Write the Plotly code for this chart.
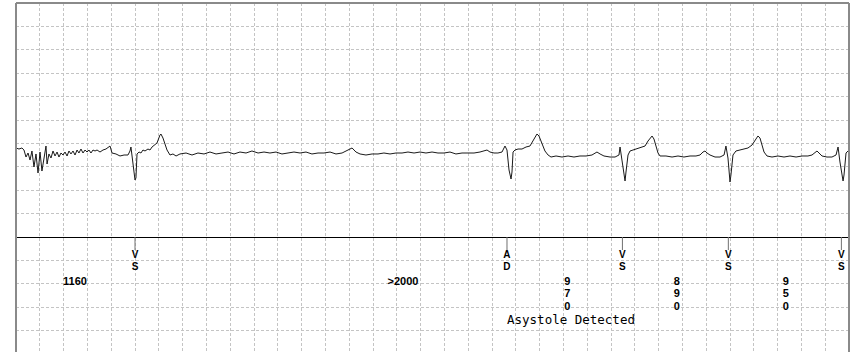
import plotly.graph_objects as go

# ECG trace: time (ms) and amplitude (mV, 0 = annotation baseline)
ecg_t_ms = [0, 25, 50, 67, 84, 101, 118, 134, 151, 168, 185, 202, 218, 235, 252, 261, 277, 294, 311, 328,
            345, 361, 378, 395, 412, 429, 445, 462, 479, 496, 513, 529, 546, 563, 580, 597, 613, 630, 647, 664,
            681, 706, 731, 756, 773, 790, 807, 840, 874, 908, 941, 958, 966, 983, 1000, 1008, 1017, 1034, 1050, 1067,
            1084, 1109, 1126, 1143, 1168, 1185, 1210, 1218, 1235, 1252, 1269, 1294, 1319, 1345, 1378, 1429, 1479, 1529, 1580, 1630,
            1681, 1731, 1782, 1832, 1882, 1933, 1983, 2034, 2084, 2134, 2185, 2235, 2286, 2336, 2387, 2437, 2487, 2538, 2588, 2639,
            2689, 2740, 2790, 2824, 2857, 2891, 2941, 2992, 3042, 3092, 3143, 3193, 3244, 3294, 3345, 3395, 3445, 3496, 3546, 3597,
            3647, 3697, 3748, 3798, 3849, 3899, 3933, 3958, 3983, 4017, 4050, 4084, 4109, 4126, 4143, 4160, 4168, 4177, 4193, 4219,
            4252, 4286, 4319, 4345, 4370, 4378, 4395, 4420, 4445, 4471, 4496, 4538, 4588, 4639, 4689, 4739, 4790, 4840, 4866, 4882,
            4908, 4941, 4992, 5034, 5067, 5076, 5092, 5109, 5118, 5126, 5143, 5160, 5185, 5218, 5252, 5286, 5311, 5328, 5345, 5361,
            5378, 5395, 5412, 5462, 5513, 5563, 5613, 5664, 5714, 5748, 5773, 5790, 5807, 5832, 5874, 5916, 5950, 5966, 5983, 5992,
            6000, 6008, 6025, 6050, 6084, 6118, 6151, 6185, 6210, 6235, 6252, 6269, 6286, 6311, 6353, 6403, 6454, 6504, 6555, 6605,
            6655, 6689, 6714, 6731, 6748, 6773, 6815, 6857, 6891, 6908, 6924, 6941, 6950, 6958, 6975, 6992, 7000]
ecg_mv = [1.902, 1.880, 1.902, 1.859, 1.709, 1.795, 1.645, 1.838, 1.496, 1.774, 1.368, 1.816, 1.410, 1.688, 1.944, 1.560, 1.774, 1.688, 1.838, 1.731,
          1.816, 1.709, 1.795, 1.752, 1.816, 1.731, 1.838, 1.774, 1.838, 1.752, 1.859, 1.795, 1.880, 1.795, 1.859, 1.816, 1.859, 1.795, 1.859, 1.838,
          1.859, 1.816, 1.859, 1.880, 1.923, 1.944, 1.795, 1.774, 1.731, 1.752, 1.752, 1.838, 1.923, 1.517, 1.218, 1.261, 1.774, 1.816, 1.795, 1.859,
          1.838, 1.880, 1.859, 1.923, 1.966, 2.009, 2.179, 2.201, 2.115, 1.987, 1.859, 1.752, 1.774, 1.731, 1.774, 1.795, 1.752, 1.795, 1.774, 1.816,
          1.774, 1.795, 1.816, 1.774, 1.816, 1.795, 1.838, 1.795, 1.816, 1.795, 1.816, 1.774, 1.795, 1.816, 1.795, 1.816, 1.774, 1.795, 1.795, 1.816,
          1.774, 1.795, 1.859, 1.902, 1.816, 1.774, 1.752, 1.774, 1.774, 1.795, 1.774, 1.795, 1.795, 1.816, 1.795, 1.816, 1.795, 1.816, 1.795, 1.795,
          1.816, 1.774, 1.795, 1.795, 1.795, 1.816, 1.838, 1.859, 1.816, 1.795, 1.795, 1.816, 1.944, 1.859, 1.432, 1.239, 1.389, 1.816, 1.859, 1.880,
          1.880, 1.923, 1.944, 2.051, 2.158, 2.201, 2.158, 2.009, 1.838, 1.752, 1.709, 1.731, 1.709, 1.731, 1.709, 1.731, 1.731, 1.752, 1.795, 1.816,
          1.774, 1.731, 1.709, 1.709, 1.752, 1.923, 1.645, 1.325, 1.197, 1.389, 1.752, 1.838, 1.859, 1.880, 1.902, 1.944, 2.051, 2.115, 2.158, 2.094,
          1.923, 1.795, 1.731, 1.731, 1.709, 1.731, 1.709, 1.731, 1.731, 1.752, 1.816, 1.838, 1.795, 1.752, 1.709, 1.709, 1.752, 1.944, 1.688, 1.389,
          1.175, 1.325, 1.752, 1.838, 1.859, 1.880, 1.902, 1.966, 2.073, 2.158, 2.115, 1.966, 1.816, 1.731, 1.709, 1.731, 1.709, 1.731, 1.709, 1.731,
          1.731, 1.752, 1.816, 1.838, 1.795, 1.731, 1.709, 1.709, 1.752, 1.923, 1.603, 1.303, 1.197, 1.325, 1.795, 1.838, 1.859]

# Marker channel events
event_t_ms = [1000, 4126, 5096, 5986, 6936]
event_codes = ["VS", "AD", "VS", "VS", "VS"]

# Interval labels (ms)
interval_labels = ["1160", ">2000", "970", "890", "950"]
interval_t_ms = [496, 3252, 4632, 5552, 6469]
interval_vertical = [False, False, True, True, True]

message_text = "Asystole Detected"
message_t_ms = 4126

# style constants
Y_TICK_END = -0.278
Y_LETTER = [-0.385, -0.662]
Y_DIGIT0 = -0.962
DIGIT_STEP = 0.27
Y_MESSAGE = -1.752

fig = go.Figure()

fig.add_trace(go.Scatter(x=ecg_t_ms, y=ecg_mv, mode="lines",
                         line=dict(color="#1a1a1a", width=1), hoverinfo="skip"))

tick_x, tick_y = [], []
for t in event_t_ms:
    tick_x += [t, t, None]
    tick_y += [0, Y_TICK_END, None]
fig.add_trace(go.Scatter(x=tick_x, y=tick_y, mode="lines",
                         line=dict(color="#707070", width=1), hoverinfo="skip"))

bold_font = dict(family="Liberation Sans, Arial, sans-serif", size=10, color="#000000", weight="bold")
for k in range(2):
    fig.add_trace(go.Scatter(x=event_t_ms, y=[Y_LETTER[k]] * len(event_t_ms),
                             text=[c[k] for c in event_codes], mode="text",
                             textposition="middle center", textfont=bold_font, hoverinfo="skip"))

num_font = dict(family="Liberation Sans, Arial, sans-serif", size=11, color="#000000", weight="bold")
hx = [t for t, v in zip(interval_t_ms, interval_vertical) if not v]
ht = [s for s, v in zip(interval_labels, interval_vertical) if not v]
fig.add_trace(go.Scatter(x=hx, y=[Y_DIGIT0] * len(hx), text=ht, mode="text",
                         textposition="middle center", textfont=num_font, hoverinfo="skip"))
vx, vy, vt = [], [], []
for t, s, v in zip(interval_t_ms, interval_labels, interval_vertical):
    if v:
        for k, ch in enumerate(s):
            vx.append(t)
            vy.append(Y_DIGIT0 - k * DIGIT_STEP)
            vt.append(ch)
fig.add_trace(go.Scatter(x=vx, y=vy, text=vt, mode="text",
                         textposition="middle center", textfont=num_font, hoverinfo="skip"))

fig.add_annotation(x=message_t_ms, y=Y_MESSAGE, text=message_text, showarrow=False,
                   xanchor="left", yanchor="middle", xshift=-2,
                   font=dict(family="DejaVu Sans Mono, monospace", size=12.5, color="#000000"))

frame = dict(color="#8a8a8a", width=2)
fig.add_shape(type="line", xref="paper", yref="paper", x0=0, x1=0, y0=0, y1=1, line=frame)
fig.add_shape(type="line", xref="paper", yref="paper", x0=0, x1=1, y0=1, y1=1, line=frame)
fig.add_shape(type="line", xref="paper", yref="paper", x0=1, x1=1, y0=0, y1=1, line=frame)

grid = dict(showgrid=True, gridcolor="#c4c4c4", gridwidth=1, griddash="3px,2px",
            showticklabels=False, ticks="", showline=False)
fig.update_xaxes(range=[0, 7000], tick0=0, dtick=200, zeroline=False, **grid)
fig.update_yaxes(range=[-2.457, 5.0], tick0=0, dtick=0.5, zeroline=True,
                 zerolinecolor="#000000", zerolinewidth=1, **grid)

fig.update_layout(width=854, height=352, margin=dict(l=16, r=5, t=3, b=0, pad=0),
                  paper_bgcolor="#ffffff", plot_bgcolor="#ffffff", showlegend=False)

fig.write_html("out.html", config={"displayModeBar": False})
